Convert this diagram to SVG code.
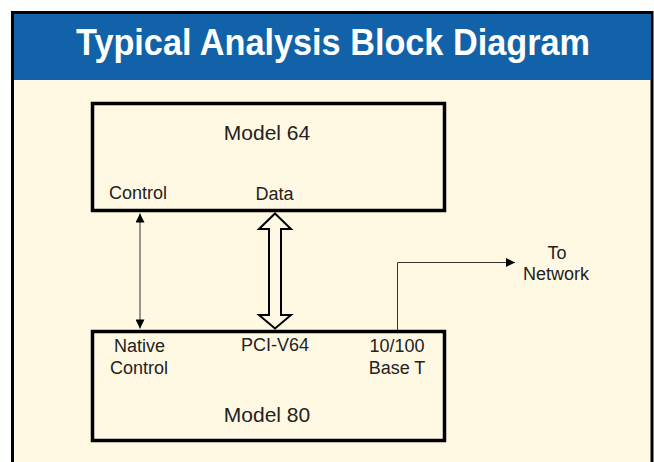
<svg xmlns="http://www.w3.org/2000/svg" width="654" height="462" viewBox="0 0 654 462">
<defs>
<style>
.lbl{font-family:"Liberation Sans",Arial,sans-serif;font-size:18px;fill:#222;text-anchor:middle}
.big{font-size:21px}
.box{fill:none;stroke:#000;stroke-width:3.5}
.thin{fill:none;stroke:#333;stroke-width:1}
</style>
<marker id="ah" viewBox="0 0 10 10" refX="10" refY="5" markerWidth="10" markerHeight="9" markerUnits="userSpaceOnUse" orient="auto-start-reverse">
<path d="M0,0 L10,5 L0,10 Z" fill="#000"/>
</marker>
</defs>
<rect x="0" y="0" width="654" height="462" fill="#fff"/>
<rect x="12.5" y="12.5" width="639.5" height="470" fill="#FFF9E3" stroke="#000" stroke-width="3"/>
<rect x="14" y="14" width="637" height="66" fill="#1162A9"/>
<text x="76" y="54.5" font-family="'Liberation Sans',Arial,sans-serif" font-weight="bold" font-size="36" fill="#fff" textLength="514" lengthAdjust="spacingAndGlyphs">Typical Analysis Block Diagram</text>

<g id="model64">
<rect class="box" x="92.5" y="103.5" width="352" height="107"/>
<text class="lbl big" x="267" y="140">Model 64</text>
<text class="lbl" x="138" y="199">Control</text>
<text class="lbl" x="274.5" y="200">Data</text>
</g>

<g id="model80">
<rect class="box" x="92.5" y="331.5" width="352" height="109"/>
<text class="lbl" x="139.5" y="352">Native</text>
<text class="lbl" x="139" y="373.5">Control</text>
<text class="lbl" x="275" y="351">PCI-V64</text>
<text class="lbl" x="397" y="352">10/100</text>
<text class="lbl" x="397" y="373.5">Base T</text>
<text class="lbl big" x="267" y="422">Model 80</text>
</g>

<g id="network">
<text class="lbl" x="557" y="259">To</text>
<text class="lbl" x="556" y="280">Network</text>
</g>

<g id="connectors">
<line class="thin" x1="140" y1="213.5" x2="140" y2="328.5" marker-start="url(#ah)" marker-end="url(#ah)"/>
<path d="M275,213.5 L291,229 L281,229 L281,315 L291,315 L275,328.5 L259,315 L269,315 L269,229 L259,229 Z" fill="#FFF9E3" stroke="#000" stroke-width="2" stroke-linejoin="miter"/>
<polyline class="thin" points="397.5,330 397.5,262.5 515,262.5" marker-end="url(#ah)"/>
</g>
</svg>
